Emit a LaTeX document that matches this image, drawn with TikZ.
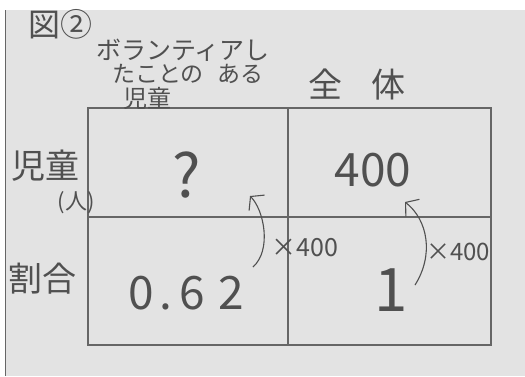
\documentclass[tikz,border=0pt]{standalone}
\usepackage{fontspec}
\setmainfont{Noto Sans CJK JP}
\usetikzlibrary{arrows.meta}
\definecolor{paper}{HTML}{E3E3E3}
\definecolor{ink}{HTML}{505050}
\definecolor{rule}{HTML}{666666}
\tikzset{
  txt/.style={inner sep=0pt, text=ink, anchor=center},
  gridline/.style={draw=rule, line width=1.2pt},
  arr/.style={draw=ink, line width=1.1pt, -{Straight Barb[length=9pt,width=22pt]}},
}
\begin{document}
\begin{tikzpicture}[x=1pt,y=-1pt]
\useasboundingbox (0,0) rectangle (525,376);
\fill[white] (0,0) rectangle (525,376);
\fill[paper] (5,10) rectangle (525,376);
\draw[rule, line width=0.8pt] (5,10) -- (5,376);
% grid
\draw[gridline] (88,108) rectangle (491,345);
\draw[gridline] (288,108) -- (288,345);
\draw[gridline] (88,217) -- (491,217);
% header texts
\node[txt, font=\fontsize{32}{32}\selectfont] (fig) at (60,24) {図②};
\node[txt, font=\fontsize{25}{25}\selectfont] (h1) at (183,50) {ボランティアし};
\node[txt, font=\fontsize{23}{23}\selectfont] (h2) at (188,74) {たことの\hspace{14pt}ある};
\node[txt, font=\fontsize{24}{24}\selectfont] (h3) at (147,98) {児童};
\node[txt, font=\fontsize{34}{34}\selectfont] (all) at (357,85) {全\hspace{30pt}体};
% row labels
\node[txt, font=\fontsize{34}{34}\selectfont] (r1) at (45,166) {児童};
\node[txt, font=\fontsize{22}{22}\selectfont] (unit) at (76,203) {(人)};
\node[txt, font=\fontsize{34}{34}\selectfont] (r2) at (43,279) {割合};
% cell values
\node[txt, font=\fontsize{60}{60}\selectfont] (q) at (187,175) {?};
\node[txt, font=\fontsize{46}{46}\selectfont] (v400) at (373,170) {400};
\node[txt, font=\fontsize{46}{46}\selectfont] (v062) at (186,293) {0\hspace{6pt}.\hspace{7pt}6\hspace{13pt}2};
\node[txt, font=\fontsize{60}{60}\selectfont] (v1) at (391,290) {1};
% arrows
\coordinate (a1s) at (253,267);
\coordinate (a1e) at (250,196);
\coordinate (a2s) at (415,285);
\coordinate (a2e) at (405,202);
\draw[arr] (a1s) .. controls (272,250) and (264,210) .. (a1e);
\draw[arr] (a2s) .. controls (434,255) and (428,220) .. (a2e);
\node[txt, font=\fontsize{25}{25}\selectfont] (m1) at (305,248) {×400};
\node[txt, font=\fontsize{24}{24}\selectfont] (m2) at (458,252) {×400};
\end{tikzpicture}
\end{document}
